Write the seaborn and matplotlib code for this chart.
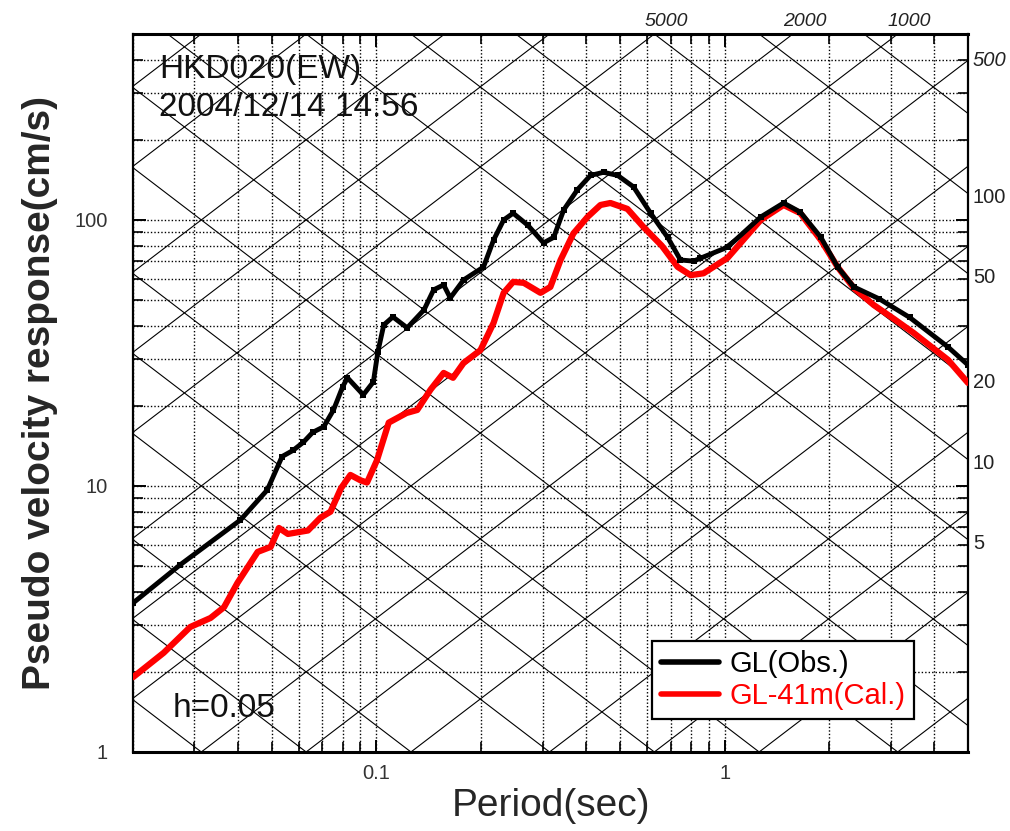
import numpy as np
import pandas as pd
import matplotlib
matplotlib.use("Agg")
import matplotlib.pyplot as plt
from matplotlib.lines import Line2D
from matplotlib.ticker import FixedLocator, NullFormatter, FixedFormatter
import seaborn as sns

# Observed pseudo-velocity response at ground level (h = 0.05)
obs_period = [0.020, 0.0273, 0.0407, 0.0486, 0.0536, 0.0576, 0.0617, 0.0656, 0.0706,
              0.0753, 0.080, 0.0826, 0.0917, 0.098, 0.101, 0.105, 0.1115, 0.1226,
              0.137, 0.146, 0.156, 0.163, 0.178, 0.203, 0.217, 0.232, 0.247, 0.272,
              0.302, 0.323, 0.345, 0.378, 0.412, 0.449, 0.493, 0.548, 0.613, 0.686,
              0.747, 0.815, 0.85, 1.02, 1.27, 1.477, 1.65, 1.89, 2.11, 2.35, 2.78,
              3.40, 4.38, 5.0]
obs_pv = [3.63, 5.05, 7.45, 9.66, 12.9, 13.6, 14.6, 15.9, 16.7,
          19.3, 23.6, 25.5, 22.0, 24.6, 32.0, 40.3, 43.2, 39.3,
          45.9, 54.6, 57.0, 50.9, 59.5, 66.5, 84.0, 100.0, 106.0, 95.6,
          82.0, 86.0, 109.0, 130.0, 147.0, 151.0, 147.0, 133.0, 106.0, 86.0,
          70.7, 70.0, 71.7, 79.0, 102.6, 115.8, 107.0, 86.0, 66.6, 56.0, 50.5,
          43.0, 33.3, 28.5]

# Calculated response at GL-41m
cal_period = [0.020, 0.0245, 0.0292, 0.0334, 0.0365, 0.0399, 0.0456, 0.0497, 0.0525,
              0.0557, 0.0636, 0.0691, 0.0738, 0.0791, 0.0842, 0.090, 0.094, 0.1004,
              0.1085, 0.122, 0.131, 0.143, 0.156, 0.166, 0.178, 0.199, 0.217, 0.232,
              0.247, 0.265, 0.296, 0.316, 0.338, 0.368, 0.404, 0.44, 0.47, 0.526,
              0.585, 0.66, 0.733, 0.799, 0.87, 1.02, 1.27, 1.477, 1.65, 1.89, 2.11,
              2.35, 2.68, 3.06, 3.49, 4.38, 5.0]
cal_pv = [1.91, 2.36, 2.95, 3.19, 3.5, 4.32, 5.65, 5.9, 6.95,
          6.6, 6.8, 7.6, 8.0, 9.8, 11.0, 10.5, 10.3, 12.5,
          17.3, 18.8, 19.3, 23.0, 26.6, 25.5, 29.0, 32.4, 41.0, 53.2,
          58.5, 58.0, 53.2, 56.0, 70.7, 89.0, 102.6, 113.8, 115.8, 110.0,
          94.0, 80.0, 66.6, 62.0, 63.0, 72.0, 100.0, 113.8, 106.0, 84.0, 66.6,
          55.5, 47.9, 42.5, 37.6, 29.8, 24.4]

series_names = ["GL(Obs.)", "GL-41m(Cal.)"]
series_colors = ["#000000", "#ff0000"]

# Tripartite reference lines: acceleration (gal) and displacement (cm)
accel_levels = [1, 2, 5, 10, 20, 50, 100, 200, 500, 1000, 2000, 5000,
                10000, 20000, 50000, 100000, 200000]
disp_levels = [0.001, 0.002, 0.005, 0.01, 0.02, 0.05, 0.1, 0.2, 0.5,
               1, 2, 5, 10, 20, 50, 100, 200, 500]
accel_labels = [5000, 2000, 1000]
accel_side_labels = [500]
disp_side_labels = [100, 50, 20, 10, 5]

x_major = [0.1, 1]
x_major_labels = ["0.1", "1"]
y_major = [1, 10, 100]
y_major_labels = ["1", "10", "100"]

T_MIN, T_MAX = 0.02, 5.0
V_MIN, V_MAX = 1.0, 500.0

sns.set_theme(style="ticks")
plt.rcParams["font.family"] = ["Liberation Sans", "DejaVu Sans"]

fig = plt.figure(figsize=(10.10, 8.31), dpi=100)
ax = fig.add_axes([0.1317, 0.0951, 0.8267, 0.864])
ax.set_xscale("log")
ax.set_yscale("log")

# dotted log grid
ax.grid(which="both", color="black", linestyle=(0, (1.0, 1.5)), linewidth=1.0)

# diagonal acceleration / displacement lines
T_line = np.array([T_MIN * 0.5, T_MAX * 2.0])
for a in accel_levels:
    ax.plot(T_line, a * T_line / (2 * np.pi), color="black", lw=0.8, zorder=1.5)
for d in disp_levels:
    ax.plot(T_line, 2 * np.pi * d / T_line, color="black", lw=0.8, zorder=1.5)

# spectra
frames = []
for name, per, pv in [(series_names[0], obs_period, obs_pv),
                      (series_names[1], cal_period, cal_pv)]:
    frames.append(pd.DataFrame({"Period": per, "PV": pv, "Series": name}))
df = pd.concat(frames, ignore_index=True)

sns.lineplot(data=df[df["Series"] == series_names[1]], x="Period", y="PV",
             color=series_colors[1], lw=4.5, ax=ax, sort=False, estimator=None,
             legend=False, zorder=4)
sns.lineplot(data=df[df["Series"] == series_names[0]], x="Period", y="PV",
             color=series_colors[0], lw=3.5, marker="s", markersize=4,
             markeredgewidth=0, ax=ax, sort=False, estimator=None,
             legend=False, zorder=5)

ax.set_xlim(T_MIN, T_MAX)
ax.set_ylim(V_MIN, V_MAX)

# ticks
ax.xaxis.set_major_locator(FixedLocator(x_major))
ax.xaxis.set_major_formatter(FixedFormatter(x_major_labels))
x_minor = [m * 10.0 ** e for e in (-2, -1, 0) for m in range(2, 10)]
ax.xaxis.set_minor_locator(FixedLocator([t for t in x_minor if T_MIN <= t <= T_MAX]))
ax.xaxis.set_minor_formatter(NullFormatter())
ax.yaxis.set_major_locator(FixedLocator(y_major))
ax.yaxis.set_major_formatter(FixedFormatter(y_major_labels))
y_minor = [m * 10.0 ** e for e in (0, 1, 2) for m in range(2, 10)]
ax.yaxis.set_minor_locator(FixedLocator([v for v in y_minor if V_MIN <= v <= V_MAX]))
ax.yaxis.set_minor_formatter(NullFormatter())

ax.tick_params(which="both", direction="in", top=True, right=True, colors="black")
ax.tick_params(which="major", length=9, width=1.4)
ax.tick_params(which="minor", length=7, width=1.2)
ax.tick_params(axis="y", which="major", pad=18, labelsize=14.5, labelcolor="#333333")
ax.tick_params(axis="x", which="major", pad=9, labelsize=14.5, labelcolor="#333333")

for side, w in [("left", 1.6), ("bottom", 2.2), ("top", 2.2), ("right", 1.6)]:
    ax.spines[side].set_visible(True)
    ax.spines[side].set_color("black")
    ax.spines[side].set_linewidth(w)

ax.set_xlabel("Period(sec)", fontsize=28, labelpad=3)
ax.set_ylabel("Pseudo velocity response(cm/s)", fontsize=28, fontweight="bold",
              labelpad=12)

# labels of the diagonal lines
for a in accel_labels:
    t_top = 2 * np.pi * V_MAX / a
    ax.text(t_top * 1.08, 1.006, str(a), transform=ax.get_xaxis_transform(),
            ha="center", va="bottom", fontsize=14, style="italic", color="#222222")
for a in accel_side_labels:
    v_r = a * T_MAX / (2 * np.pi)
    ax.text(1.006, v_r, str(a), transform=ax.get_yaxis_transform(),
            ha="left", va="center", fontsize=14.5, style="italic", color="#222222")
for d in disp_side_labels:
    v_r = 2 * np.pi * d / T_MAX
    ax.text(1.006, v_r * 0.97, str(d), transform=ax.get_yaxis_transform(),
            ha="left", va="center", fontsize=14.5, color="#222222")

# annotations
ax.text(0.031, 0.95, "HKD020(EW)", transform=ax.transAxes, fontsize=24,
        ha="left", va="center", color="#111111")
ax.text(0.031, 0.897, "2004/12/14 14:56", transform=ax.transAxes, fontsize=24,
        ha="left", va="center", color="#111111")
ax.text(0.048, 0.061, "h=0.05", transform=ax.transAxes, fontsize=24,
        ha="left", va="center", color="#111111")

handles = [Line2D([0], [0], color=c, lw=4) for c in series_colors]
leg = ax.legend(handles, series_names, loc="lower left",
                bbox_to_anchor=(0.6216, 0.046), fontsize=21, frameon=True,
                fancybox=False, edgecolor="black", framealpha=1.0,
                handlelength=2.0, handletextpad=0.35, borderpad=0.3,
                labelspacing=0.15, borderaxespad=0.0)
leg.get_frame().set_linewidth(1.6)
for txt, c in zip(leg.get_texts(), series_colors):
    txt.set_color(c)
leg.set_zorder(10)

fig.savefig("out.png", dpi=100)
